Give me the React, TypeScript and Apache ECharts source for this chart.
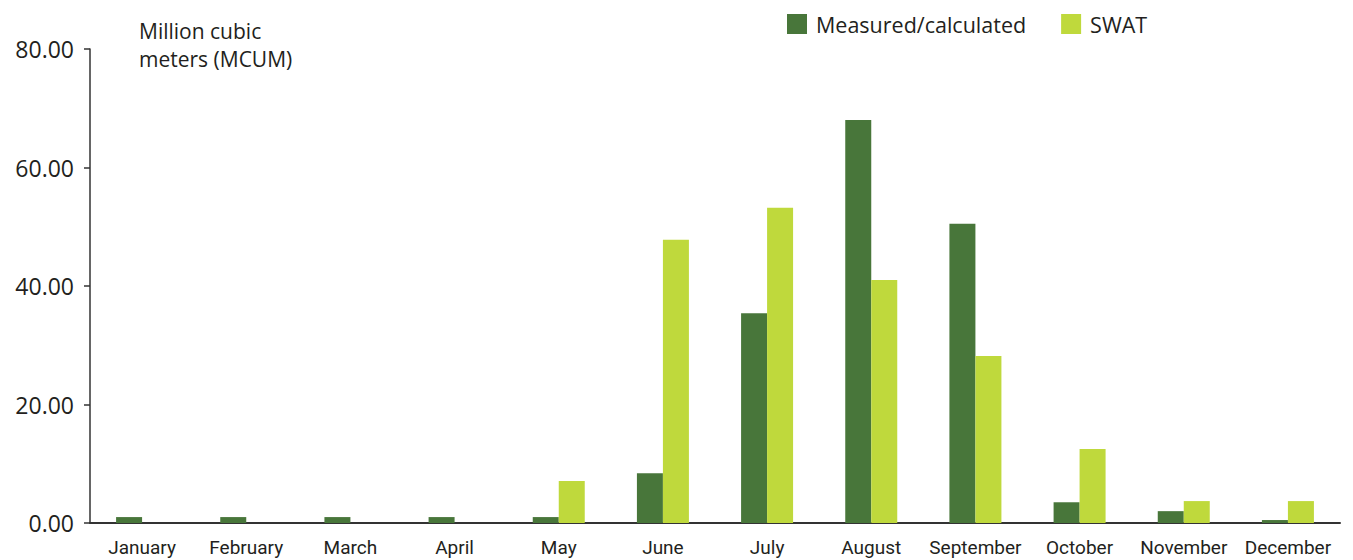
import React, { useEffect, useRef } from "react";
import * as echarts from "echarts";

const months = ["January", "February", "March", "April", "May", "June", "July", "August", "September", "October", "November", "December"];
const measured = [1.0, 1.0, 1.0, 1.0, 1.0, 8.4, 35.4, 68.0, 50.5, 3.5, 2.0, 0.5];
const swat = [0, 0, 0, 0, 7.1, 47.8, 53.2, 41.0, 28.2, 12.5, 3.7, 3.7];
const yTicks = { min: 0, max: 80, interval: 20 };

export default function App() {
  const ref = useRef<HTMLDivElement>(null);
  useEffect(() => {
    const chart = echarts.init(ref.current!, null, { renderer: "svg" });
    const textColor = "#231f20";
    chart.setOption({
      animation: false,
      grid: { left: 90, right: 13, top: 49, bottom: 37, containLabel: false },
      legend: {
        top: 8,
        left: 782,
        itemWidth: 20,
        itemHeight: 20,
        itemGap: 35,
        icon: "rect",
        textStyle: { fontFamily: "Open Sans", fontSize: 21.5, color: textColor, padding: [0, 0, 0, 4] },
        data: ["Measured/calculated", "SWAT"],
      },
      graphic: [
        {
          type: "text",
          left: 139,
          top: 17,
          style: {
            text: "Million cubic\nmeters (MCUM)",
            fontFamily: "Open Sans",
            fontSize: 21,
            lineHeight: 28,
            fill: textColor,
          },
        },
      ],
      xAxis: {
        type: "category",
        data: months,
        axisLine: { lineStyle: { color: "#333", width: 2 } },
        axisTick: { show: false },
        axisLabel: {
          interval: 0,
          margin: 15,
          fontFamily: "Roboto",
          fontSize: 19,
          color: textColor,
        },
      },
      yAxis: {
        type: "value",
        min: yTicks.min,
        max: yTicks.max,
        interval: yTicks.interval,
        splitLine: { show: false },
        axisLine: { show: true, lineStyle: { color: "#333", width: 1.5 } },
        axisTick: { show: true, length: 6, lineStyle: { color: "#333", width: 1.5 } },
        axisLabel: {
          margin: 16,
          formatter: (v: number) => v.toFixed(2),
          fontFamily: "Open Sans",
          fontSize: 23,
          color: textColor,
        },
      },
      series: [
        {
          name: "Measured/calculated",
          type: "bar",
          data: measured,
          barWidth: 26,
          barGap: "0%",
          itemStyle: { color: "#48763a" },
        },
        {
          name: "SWAT",
          type: "bar",
          data: swat,
          barWidth: 26,
          barGap: "0%",
          itemStyle: { color: "#bfd93c" },
        },
      ],
    });
    return () => chart.dispose();
  }, []);
  return <div ref={ref} style={{ width: 1353, height: 560, position: "absolute", left: 0, top: 0 }} />;
}
